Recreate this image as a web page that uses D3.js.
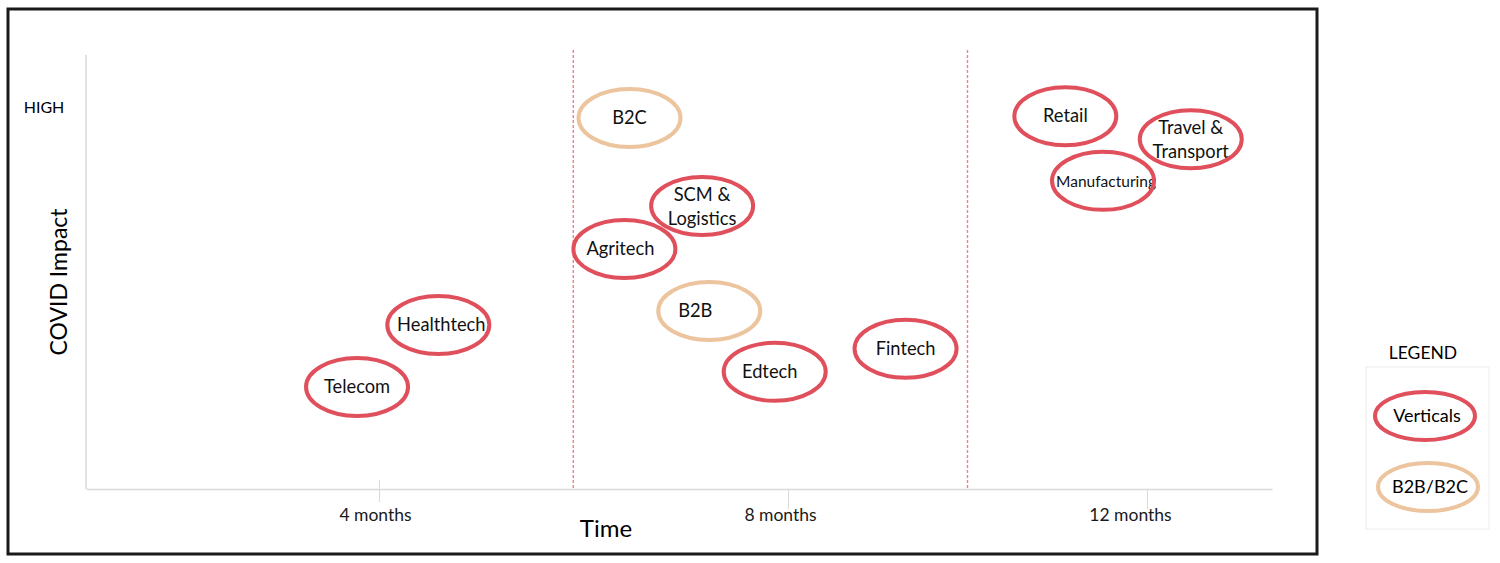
<!DOCTYPE html>
<html>
<head>
<meta charset="utf-8">
<script src="https://cdn.jsdelivr.net/npm/d3@7"></script>
<style>
  body { margin: 0; background: #fff; }
  svg { font-family: Lato, 'Open Sans', sans-serif; }
</style>
</head>
<body>
<div id="page"></div>
<script>
// sectors / segments placed on time (months) vs covid impact (0-10)
const names = ['Telecom', 'Healthtech', 'B2C', 'SCM &\nLogistics', 'Agritech', 'B2B',
               'Edtech', 'Fintech', 'Retail', 'Manufacturing', 'Travel &\nTransport'];
const kinds = ['Verticals', 'Verticals', 'B2B/B2C', 'Verticals', 'Verticals', 'B2B/B2C',
               'Verticals', 'Verticals', 'Verticals', 'Verticals', 'Verticals'];
const months = [3.70, 4.58, 6.45, 7.16, 6.40, 7.23, 7.87, 9.31, 11.09, 11.51, 12.49];
const impact = [2.35, 3.78, 8.55, 6.52, 5.53, 4.10, 2.70, 3.23, 8.59, 7.10, 8.06];

const tickMonths = [4, 8, 12];
const tickLabels = ['4 months', '8 months', '12 months'];
const phaseBreaks = [5.9, 10];
const legendItems = ['Verticals', 'B2B/B2C'];

const width = 1500;
const height = 563;

const color = d3.scaleOrdinal()
                .domain(legendItems)
                .range(['#e0505c', '#ecc49e']);

// axis is not evenly spaced in the original, so use a polylinear scale
const x = d3.scaleLinear()
            .domain([0, 4, 8, 12, 13.4])
            .range([86, 379, 788, 1147, 1272]);

const y = d3.scaleLinear()
            .domain([0, 10])
            .range([489, 55]);

const svg = d3.select('#page')
              .append('svg')
              .attr('width', width)
              .attr('height', height);

// outer frame
svg.append('rect')
   .attr('x', 8)
   .attr('y', 9)
   .attr('width', 1309)
   .attr('height', 545)
   .attr('fill', 'none')
   .attr('stroke', '#1a1a1a')
   .attr('stroke-width', 3);

// y axis line
svg.append('line')
   .attr('x1', x(0)).attr('x2', x(0))
   .attr('y1', y(10)).attr('y2', y(0))
   .attr('stroke', '#d9d9d9')
   .attr('stroke-width', 1.5);

const xAxis = svg.append('g')
                 .attr('transform', `translate(0,${y(0)})`)
                 .call(d3.axisBottom(x)
                         .tickValues(tickMonths)
                         .tickFormat((d, i) => tickLabels[i])
                         .tickSize(13)
                         .tickSizeOuter(0));

xAxis.select('.domain')
     .attr('stroke', '#d9d9d9')
     .attr('stroke-width', 1.5);
xAxis.selectAll('.tick line')
     .attr('stroke', '#d9d9d9')
     .attr('y1', (d, i) => i === 0 ? -9 : 0)
     .attr('y2', (d, i) => i === 0 ? 13 : 20);
xAxis.selectAll('.tick text')
     .attr('y', 32)
     .attr('dy', 0)
     .attr('dx', (d, i) => [-4, -8, -17][i])
     .attr('fill', '#1a1a1a')
     .style('font-size', '17.5px')
     .style('font-family', 'Lato, sans-serif');

// phase separators
svg.selectAll('.phase')
   .data(phaseBreaks)
   .enter()
   .append('line')
   .attr('class', 'phase')
   .attr('x1', d => x(d)).attr('x2', d => x(d))
   .attr('y1', y(10) - 5).attr('y2', y(0))
   .attr('stroke', '#f0808b')
   .attr('stroke-width', 1.4)
   .attr('stroke-dasharray', '3,2');

// axis titles
svg.append('text')
   .attr('x', 606)
   .attr('y', 537)
   .attr('text-anchor', 'middle')
   .style('font-size', '24px')
   .text('Time');

svg.append('text')
   .attr('transform', 'translate(67,282) rotate(-90)')
   .attr('text-anchor', 'middle')
   .style('font-size', '23px')
   .text('COVID Impact');

svg.append('text')
   .attr('x', 44)
   .attr('y', 113)
   .attr('text-anchor', 'middle')
   .style('font-size', '16px')
   .text('HIGH');

// small per-label nudges so text sits like the original
const nudge = { 'B2B': -14, 'Agritech': -4, 'Edtech': -5, 'Healthtech': 3 };

const items = names.map((n, i) => ({ name: n, kind: kinds[i], m: months[i], v: impact[i] }));

const bubble = svg.selectAll('.bubble')
                  .data(items)
                  .enter()
                  .append('g')
                  .attr('class', 'bubble')
                  .attr('transform', d => `translate(${x(d.m)},${y(d.v)})`);

bubble.append('text')
      .attr('text-anchor', 'middle')
      .attr('fill', '#111')
      .style('font-size', d => d.name === 'Manufacturing' ? '15.5px' : '18.3px')
      .selectAll('tspan')
      .data(d => d.name.split('\n').map((t, i, a) => ({ t, i, n: a.length, name: d.name })))
      .enter()
      .append('tspan')
      .attr('x', d => (nudge[d.name] || 0) + (d.name === 'Manufacturing' ? 3 : 0))
      .attr('y', d => d.n === 1 ? 6 : (d.i === 0 ? -5 : 19))
      .text(d => d.t);

bubble.append('ellipse')
      .attr('rx', 51)
      .attr('ry', 29)
      .attr('fill', 'none')
      .attr('stroke', d => color(d.kind))
      .attr('stroke-width', 4);

// legend
svg.append('text')
   .attr('x', 1423)
   .attr('y', 359)
   .attr('text-anchor', 'middle')
   .style('font-size', '17.5px')
   .text('LEGEND');

svg.append('rect')
   .attr('x', 1366)
   .attr('y', 367)
   .attr('width', 123)
   .attr('height', 162)
   .attr('fill', 'none')
   .attr('stroke', '#ececec');

const lg = svg.selectAll('.legend-item')
              .data(legendItems)
              .enter()
              .append('g')
              .attr('class', 'legend-item')
              .attr('transform', (d, i) => `translate(${1425 + i * 3},${416 + i * 71})`);

lg.append('ellipse')
  .attr('rx', 50)
  .attr('ry', 24)
  .attr('fill', 'none')
  .attr('stroke', d => color(d))
  .attr('stroke-width', 4);

lg.append('text')
  .attr('text-anchor', 'middle')
  .attr('y', 6)
  .attr('x', 2)
  .style('font-size', '18px')
  .text(d => d);
</script>
</body>
</html>
